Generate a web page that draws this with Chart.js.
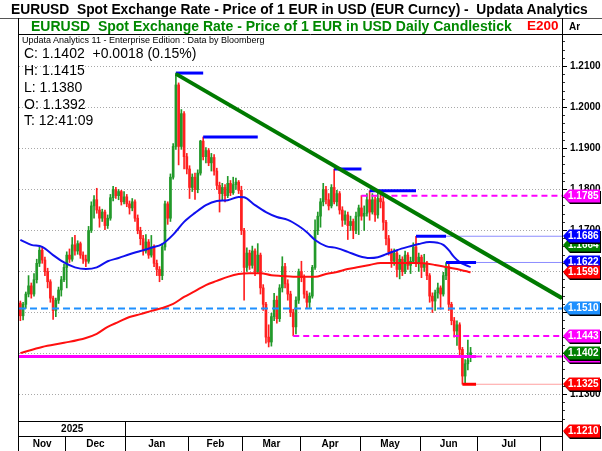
<!DOCTYPE html>
<html><head><meta charset="utf-8">
<script src="https://cdn.jsdelivr.net/npm/chart.js@4/dist/chart.umd.min.js"></script>
<style>
html,body{margin:0;padding:0;background:#fff;}
#wrap{position:relative;width:602px;height:451px;overflow:hidden;font-family:"Liberation Sans",Arial,sans-serif;}
canvas{position:absolute;left:0;top:0;}
.t{position:absolute;white-space:nowrap;line-height:1;}
</style></head>
<body><div id="wrap">
<canvas id="c" width="602" height="451"></canvas>
<div class="t" style="left:11px;top:3px;font-size:13.8px;font-weight:bold;color:#000">EURUSD&nbsp; Spot Exchange Rate - Price of 1 EUR in USD (EUR Curncy) -&nbsp; Updata Analytics</div>
<div class="t" style="left:31px;top:19px;font-size:14px;font-weight:bold;color:#008800">EURUSD&nbsp; Spot Exchange Rate - Price of 1 EUR in USD Daily Candlestick</div>
<div class="t" style="left:527px;top:19px;font-size:13.5px;font-weight:bold;color:#ff0000">E200</div>
<div class="t" style="left:569px;top:22px;font-size:10px;font-weight:bold;color:#000">Ar</div>
<div class="t" style="left:22px;top:36px;font-size:9px;color:#000">Updata Analytics 11 - Enterprise Edition : Data by Bloomberg</div>
<div class="t" style="left:24px;top:46px;font-size:14px;color:#000">C: 1.1402&nbsp; +0.0018 (0.15%)</div>
<div class="t" style="left:24px;top:63px;font-size:14px;color:#000">H: 1.1415</div>
<div class="t" style="left:24px;top:80px;font-size:14px;color:#000">L: 1.1380</div>
<div class="t" style="left:24px;top:97px;font-size:14px;color:#000">O: 1.1392</div>
<div class="t" style="left:24px;top:113px;font-size:14px;color:#000">T: 12:41:09</div>
</div>
<script>
// ---------------- DATA ----------------
const START_DATE = '2024-11-07';
const SLOT_COUNT = 199;          // trading-day slots on the axis (data + future space)
const monthNames = ['Nov','Dec','Jan','Feb','Mar','Apr','May','Jun','Jul',''];
const yearLabels = ['2025',''];
const yTickValues = [1.13,1.14,1.15,1.16,1.17,1.18,1.19,1.20,1.21];
const yMinorStep = 0.002;

const open = [
1.1523,1.1492,1.1520,1.1545,1.1565,1.1545,1.1580,1.1620,1.1652,1.1628,
1.1600,1.1575,1.1535,1.1505,1.1530,1.1555,1.1580,1.1610,1.1640,1.1630,
1.1665,1.1650,1.1668,1.1640,1.1630,1.1625,1.1700,1.1760,1.1775,1.1750,
1.1730,1.1745,1.1712,1.1730,1.1780,1.1800,1.1785,1.1795,1.1770,1.1782,
1.1765,1.1755,1.1770,1.1730,1.1700,1.1680,1.1650,1.1672,1.1640,1.1660,
1.1620,1.1605,1.1590,1.1660,1.1765,1.1730,1.1830,1.1905,1.2055,1.1905,
1.1985,1.1880,1.1850,1.1805,1.1830,1.1800,1.1840,1.1918,1.1880,1.1895,
1.1865,1.1878,1.1845,1.1810,1.1790,1.1805,1.1785,1.1815,1.1792,1.1812,
1.1818,1.1798,1.1700,1.1610,1.1645,1.1615,1.1650,1.1600,1.1640,1.1560,
1.1520,1.1440,1.1428,1.1490,1.1530,1.1485,1.1560,1.1612,1.1570,1.1545,
1.1500,1.1465,1.1530,1.1600,1.1585,1.1545,1.1525,1.1540,1.1610,1.1700,
1.1735,1.1770,1.1800,1.1775,1.1760,1.1805,1.1770,1.1790,1.1750,1.1725,
1.1738,1.1712,1.1722,1.1700,1.1735,1.1755,1.1735,1.1742,1.1775,1.1745,
1.1775,1.1738,1.1778,1.1770,1.1720,1.1680,1.1648,1.1625,1.1645,1.1605,
1.1630,1.1600,1.1640,1.1615,1.1625,1.1660,1.1620,1.1635,1.1610,1.1620,
1.1590,1.1540,1.1528,1.1548,1.1560,1.1545,1.1590,1.1612,1.1520,1.1480,
1.1455,1.1470,1.1410,1.1345,1.1375,1.1392];
const high = [
1.1528,1.1525,1.1550,1.1590,1.1572,1.1595,1.1630,1.1662,1.1660,1.1635,
1.1608,1.1580,1.1540,1.1535,1.1562,1.1588,1.1618,1.1648,1.1655,1.1683,
1.1688,1.1675,1.1672,1.1648,1.1640,1.1710,1.1770,1.1785,1.1803,1.1758,
1.1752,1.1750,1.1738,1.1788,1.1808,1.1805,1.1800,1.1798,1.1795,1.1788,
1.1772,1.1778,1.1775,1.1738,1.1708,1.1688,1.1690,1.1678,1.1688,1.1665,
1.1628,1.1612,1.1668,1.1772,1.1770,1.1838,1.1912,1.2084,1.2060,1.1995,
1.1990,1.1888,1.1858,1.1838,1.1840,1.1848,1.1920,1.1928,1.1902,1.1900,
1.1888,1.1885,1.1852,1.1818,1.1815,1.1812,1.1832,1.1822,1.1830,1.1828,
1.1822,1.1808,1.1705,1.1658,1.1652,1.1662,1.1655,1.1668,1.1645,1.1568,
1.1525,1.1470,1.1498,1.1547,1.1540,1.1568,1.1636,1.1620,1.1580,1.1552,
1.1508,1.1538,1.1606,1.1625,1.1592,1.1552,1.1548,1.1615,1.1726,1.1745,
1.1778,1.1815,1.1808,1.1790,1.1812,1.1850,1.1798,1.1795,1.1758,1.1748,
1.1745,1.1735,1.1728,1.1745,1.1762,1.1785,1.1760,1.1790,1.1797,1.1790,
1.1782,1.1792,1.1794,1.1781,1.1725,1.1688,1.1655,1.1655,1.1650,1.1640,
1.1636,1.1650,1.1646,1.1635,1.1670,1.1686,1.1645,1.1640,1.1642,1.1625,
1.1595,1.1548,1.1555,1.1572,1.1565,1.1598,1.1622,1.1620,1.1525,1.1488,
1.1480,1.1475,1.1415,1.1385,1.1433,1.1415];
const low = [
1.1480,1.1482,1.1510,1.1538,1.1535,1.1540,1.1572,1.1612,1.1620,1.1590,
1.1560,1.1525,1.1483,1.1490,1.1522,1.1540,1.1575,1.1560,1.1622,1.1625,
1.1640,1.1642,1.1632,1.1620,1.1612,1.1620,1.1695,1.1730,1.1742,1.1708,
1.1722,1.1702,1.1705,1.1725,1.1772,1.1778,1.1775,1.1762,1.1765,1.1758,
1.1740,1.1748,1.1722,1.1692,1.1665,1.1640,1.1645,1.1632,1.1635,1.1612,
1.1590,1.1575,1.1580,1.1652,1.1715,1.1722,1.1825,1.1898,1.1860,1.1898,
1.1850,1.1838,1.1778,1.1795,1.1776,1.1792,1.1835,1.1872,1.1865,1.1858,
1.1845,1.1835,1.1800,1.1745,1.1775,1.1770,1.1780,1.1785,1.1788,1.1800,
1.1790,1.1690,1.1530,1.1600,1.1605,1.1608,1.1590,1.1595,1.1545,1.1505,
1.1425,1.1416,1.1418,1.1480,1.1474,1.1478,1.1550,1.1560,1.1530,1.1490,
1.1443,1.1448,1.1522,1.1575,1.1535,1.1510,1.1512,1.1535,1.1605,1.1690,
1.1708,1.1760,1.1765,1.1750,1.1755,1.1765,1.1760,1.1740,1.1710,1.1715,
1.1678,1.1700,1.1680,1.1692,1.1690,1.1725,1.1700,1.1735,1.1725,1.1740,
1.1722,1.1730,1.1755,1.1701,1.1665,1.1640,1.1610,1.1615,1.1587,1.1582,
1.1590,1.1595,1.1605,1.1595,1.1620,1.1612,1.1600,1.1585,1.1600,1.1580,
1.1525,1.1500,1.1505,1.1535,1.1508,1.1540,1.1580,1.1505,1.1470,1.1440,
1.1420,1.1395,1.1325,1.1325,1.1360,1.1380];
const close = [
1.1492,1.1520,1.1545,1.1565,1.1545,1.1580,1.1620,1.1652,1.1628,1.1600,
1.1575,1.1535,1.1505,1.1530,1.1555,1.1580,1.1610,1.1640,1.1630,1.1665,
1.1650,1.1668,1.1640,1.1630,1.1625,1.1700,1.1760,1.1775,1.1750,1.1730,
1.1745,1.1712,1.1730,1.1780,1.1800,1.1785,1.1795,1.1770,1.1782,1.1765,
1.1755,1.1770,1.1730,1.1700,1.1680,1.1650,1.1672,1.1640,1.1660,1.1620,
1.1605,1.1590,1.1660,1.1765,1.1730,1.1830,1.1905,1.2055,1.1905,1.1985,
1.1880,1.1850,1.1805,1.1830,1.1800,1.1840,1.1918,1.1880,1.1895,1.1865,
1.1878,1.1845,1.1810,1.1790,1.1805,1.1785,1.1815,1.1792,1.1812,1.1818,
1.1798,1.1700,1.1610,1.1645,1.1615,1.1650,1.1600,1.1640,1.1560,1.1520,
1.1440,1.1428,1.1490,1.1530,1.1485,1.1560,1.1612,1.1570,1.1545,1.1500,
1.1465,1.1530,1.1600,1.1585,1.1545,1.1525,1.1540,1.1610,1.1700,1.1735,
1.1770,1.1800,1.1775,1.1760,1.1805,1.1770,1.1790,1.1750,1.1725,1.1738,
1.1712,1.1722,1.1700,1.1735,1.1755,1.1735,1.1742,1.1775,1.1745,1.1775,
1.1738,1.1778,1.1770,1.1720,1.1680,1.1648,1.1625,1.1645,1.1605,1.1630,
1.1600,1.1640,1.1615,1.1625,1.1660,1.1620,1.1635,1.1610,1.1620,1.1590,
1.1540,1.1528,1.1548,1.1560,1.1545,1.1590,1.1612,1.1520,1.1480,1.1455,
1.1470,1.1410,1.1345,1.1375,1.1384,1.1402];

// 50-bar average (blue) and 200 EMA (red), read at the listed bars
const blueMaBars = [0,4,8,12,16,20,24,28,32,36,40,44,48,52,56,60,64,68,72,76,80,82,86,90,94,98,102,105,108,112,116,120,124,128,131,134,138,142,146,150,153,155,157,159,161,163,165];
const blueMa = [1.1677,1.1665,1.1660,1.1640,1.1622,1.1610,1.1606,1.1610,1.1625,1.1633,1.1642,1.1650,1.1658,1.1667,1.1690,1.1721,1.1743,1.1762,1.1772,1.1774,1.1782,1.1781,1.1762,1.1745,1.1733,1.1726,1.1711,1.1696,1.1677,1.1662,1.1657,1.1648,1.1638,1.1633,1.1635,1.1642,1.1652,1.1660,1.1667,1.1672,1.1670,1.1665,1.1652,1.1635,1.1623,1.1616,1.1611];
const redMaBars = [0,8,16,24,28,32,36,40,44,48,52,56,60,64,68,72,76,80,84,88,92,96,100,104,108,112,116,120,124,128,132,136,140,144,148,152,156,160,163,165];
const redMa = [1.1401,1.1416,1.1426,1.1438,1.1448,1.1465,1.1477,1.1489,1.1496,1.1504,1.1511,1.1521,1.1538,1.1552,1.1567,1.1577,1.1587,1.1594,1.1596,1.1596,1.1591,1.1589,1.1587,1.1587,1.1587,1.1594,1.1599,1.1606,1.1611,1.1616,1.1621,1.1621,1.1621,1.1621,1.1620,1.1616,1.1611,1.1606,1.1601,1.1598];

// swing-high markers: start bar, end bar, level
const swingFrom = [57,67,115,128,145,156];
const swingTo   = [67,87,125,145,156,167];
const swingLevel= [1.2084,1.1928,1.1850,1.1797,1.1686,1.1622];
// swing-low marker
const lowFrom = 162, lowTo = 167, lowLevel = 1.1325;
// trendline endpoints (bar, value)
const trendBars = [57,198.5];
const trendVals = [1.2082,1.1535];
// horizontal levels
const supportLevel = 1.1510;
const pinkUpper = 1.1785, pinkUpperFrom = 125;
const pinkLower = 1.1443, pinkLowerFrom = 100;
const pinkBase = 1.1393, pinkBaseSolidTo = 167;
// right-hand price tags
const tagValues = [1.1785,1.1664,1.1686,1.1622,1.1599,1.1510,1.1443,1.1393,1.1402,1.1325,1.1210];
const tagColors = ['#ff00ff','#008000','#0000ff','#0000ff','#ff0000','#1e90ff','#ff00ff','#ff00ff','#008000','#ff0000','#ff0000'];

// ---------------- BUILD ----------------
const dates = [];
{ const d = new Date(START_DATE + 'T00:00:00Z');
  while (dates.length < SLOT_COUNT) { const w = d.getUTCDay(); if (w !== 0 && w !== 6) dates.push(new Date(d.getTime())); d.setUTCDate(d.getUTCDate() + 1); } }
const xMin = -0.5, xMax = SLOT_COUNT - 0.5;
const monthEdges = [xMin];
let yearEdge = null;
for (let i = 1; i < dates.length; i++) {
  if (dates[i].getUTCMonth() !== dates[i-1].getUTCMonth()) monthEdges.push(i - 0.5);
  if (yearEdge === null && dates[i].getUTCFullYear() !== dates[i-1].getUTCFullYear()) yearEdge = i - 0.5;
}
monthEdges.push(xMax);
const monthTicks = [];
for (let k = 0; k < monthEdges.length - 1; k++) {
  if (k > 0) monthTicks.push({v: monthEdges[k], label: '', sep: true});
  monthTicks.push({v: (monthEdges[k] + monthEdges[k+1]) / 2, label: monthNames[k] || '', sep: false});
}
const yearTicks = [
  {v: (xMin + yearEdge) / 2, label: yearLabels[0], sep: false},
  {v: yearEdge, label: '', sep: true},
  {v: (yearEdge + xMax) / 2, label: yearLabels[1], sep: false}
];

const UP = '#22992a', DOWN = '#ff2020';
const wickData = close.map((c, i) => ({x: i, y: [low[i], high[i]]}));
const bodyData = close.map((c, i) => ({x: i, y: [open[i], c]}));
const colorOf = (i) => close[i] >= open[i] ? UP : DOWN;

const seg = (x1, x2, v, color, width, dash, order) => ({
  type: 'line', data: [{x: x1, y: v}, {x: x2, y: v}], borderColor: color, borderWidth: width,
  borderDash: dash || [], pointRadius: 0, fill: false, order, tension: 0
});

const datasets = [];
datasets.push({type: 'line', data: trendBars.map((b, k) => ({x: b, y: trendVals[k]})), borderColor: '#007a00', borderWidth: 4, pointRadius: 0, order: 1});
for (let k = 0; k < swingFrom.length; k++) datasets.push(seg(swingFrom[k], swingTo[k], swingLevel[k], '#0000ff', 3, null, 2));
datasets.push(seg(lowFrom, lowTo, lowLevel, '#ff0000', 3, null, 2));
datasets.push({type: 'line', data: blueMaBars.map((b, k) => ({x: b, y: blueMa[k]})), borderColor: '#1010ee', borderWidth: 2, pointRadius: 0, cubicInterpolationMode: 'monotone', order: 3});
datasets.push({type: 'line', data: redMaBars.map((b, k) => ({x: b, y: redMa[k]})), borderColor: '#ff1010', borderWidth: 2, pointRadius: 0, cubicInterpolationMode: 'monotone', order: 3});
datasets.push(seg(xMin, xMax, supportLevel, '#1e90ff', 2, [7, 4], 4));
datasets.push(seg(pinkUpperFrom, xMax, pinkUpper, '#ff00ff', 2, [6, 4], 4));
datasets.push(seg(pinkLowerFrom, xMax, pinkLower, '#ff00ff', 2, [6, 4], 4));
datasets.push(seg(xMin, pinkBaseSolidTo, pinkBase, '#ff00ff', 3, null, 4));
datasets.push(seg(pinkBaseSolidTo, xMax, pinkBase, '#ff00ff', 2, [6, 4], 4));
datasets.push(seg(swingTo[4], xMax, swingLevel[4], '#8c8cff', 1, null, 4));
datasets.push(seg(swingTo[5], xMax, swingLevel[5], '#8c8cff', 1, null, 4));
datasets.push(seg(lowTo, xMax, lowLevel, '#ffa0a0', 1, null, 4));
datasets.push({type: 'bar', data: bodyData, backgroundColor: c => colorOf(c.dataIndex), barThickness: 2, grouped: false, borderWidth: 0, order: 5});
datasets.push({type: 'bar', data: wickData, backgroundColor: c => colorOf(c.dataIndex), barThickness: 1, grouped: false, borderWidth: 0, order: 6});

const FONT = '"Liberation Sans", Arial, sans-serif';
const yMin = 1.12354, yMax = 1.21768;

const framePlugin = {
  id: 'frame',
  beforeDraw(chart) {
    const c = chart.ctx; c.save(); c.fillStyle = '#fff'; c.fillRect(0, 0, chart.width, chart.height); c.restore();
  },
  afterDraw(chart) {
    const c = chart.ctx, a = chart.chartArea;
    c.save();
    c.strokeStyle = '#555'; c.lineWidth = 1;
    c.beginPath(); c.moveTo(0, 18.5); c.lineTo(602, 18.5); c.stroke();
    c.strokeStyle = '#000';
    c.beginPath(); c.moveTo(a.left - 0.5, 18); c.lineTo(a.left - 0.5, 451); c.stroke();
    c.beginPath(); c.moveTo(a.left, a.top - 0.5); c.lineTo(602, a.top - 0.5); c.stroke();
    c.beginPath(); c.moveTo(a.right + 0.5, 18); c.lineTo(a.right + 0.5, a.top); c.stroke();
    c.beginPath(); c.moveTo(a.right + 0.5, a.bottom); c.lineTo(a.right + 0.5, 451); c.stroke();
    // price tags
    const ys = chart.scales.y;
    c.font = 'bold 10px ' + FONT; c.textBaseline = 'middle'; c.textAlign = 'left';
    tagValues.forEach((v, k) => {
      const y = Math.round(ys.getPixelForValue(v));
      const shape = (dx, dy) => { c.beginPath(); c.moveTo(563 + dx, y + dy); c.lineTo(569 + dx, y - 6.5 + dy); c.lineTo(600 + dx, y - 6.5 + dy); c.lineTo(600 + dx, y + 6.5 + dy); c.lineTo(569 + dx, y + 6.5 + dy); c.closePath(); };
      c.fillStyle = '#000'; shape(1, 1.5); c.fill();
      c.fillStyle = tagColors[k]; shape(0, 0); c.fill();
      c.fillStyle = '#fff'; c.fillText(v.toFixed(4), 568, y + 0.5);
    });
    c.restore();
  }
};

new Chart(document.getElementById('c'), {
  type: 'bar',
  data: {datasets},
  options: {
    responsive: false, animation: false, events: [],
    layout: {padding: {left: 19, top: 35, right: 0, bottom: 0}},
    plugins: {legend: {display: false}, tooltip: {enabled: false}, title: {display: false}},
    scales: {
      x: {type: 'linear', display: false, min: xMin, max: xMax, offset: false, grid: {offset: false}},
      xYear: {
        type: 'linear', position: 'bottom', weight: 1, min: xMin, max: xMax, offset: false,
        afterBuildTicks: s => { s.ticks = yearTicks.map(t => ({value: t.v})); },
        afterFit: s => { s.height = 15; },
        ticks: {autoSkip: false, maxRotation: 0, padding: -13, color: '#000', font: {family: FONT, size: 10, weight: 'bold'}, callback: (v, i) => yearTicks[i] ? yearTicks[i].label : ''},
        grid: {offset: false, drawOnChartArea: false, drawTicks: true, tickLength: 15, tickWidth: 1, tickColor: c => (yearTicks[c.index] && yearTicks[c.index].sep) ? '#000' : 'rgba(0,0,0,0)'},
        border: {display: true, color: '#000', width: 1}
      },
      xMonth: {
        type: 'linear', position: 'bottom', weight: 2, min: xMin, max: xMax, offset: false,
        afterBuildTicks: s => { s.ticks = monthTicks.map(t => ({value: t.v})); },
        afterFit: s => { s.height = 15; },
        ticks: {autoSkip: false, maxRotation: 0, padding: -13, color: '#000', font: {family: FONT, size: 10, weight: 'bold'}, callback: (v, i) => monthTicks[i] ? monthTicks[i].label : ''},
        grid: {offset: false, drawOnChartArea: false, drawTicks: true, tickLength: 15, tickWidth: 1, tickColor: c => (monthTicks[c.index] && monthTicks[c.index].sep) ? '#000' : 'rgba(0,0,0,0)'},
        border: {display: true, color: '#000', width: 1}
      },
      yMinor: {
        type: 'linear', position: 'right', weight: 0, min: yMin, max: yMax, beginAtZero: false,
        afterBuildTicks: s => { const t = []; for (let v = Math.ceil(yMin / yMinorStep) * yMinorStep; v <= yMax; v += yMinorStep) t.push({value: v}); s.ticks = t; },
        afterFit: s => { s.width = 0; },
        ticks: {display: false},
        grid: {drawOnChartArea: false, drawTicks: true, tickLength: 3, tickColor: '#333'},
        border: {display: false}
      },
      y: {
        type: 'linear', position: 'right', weight: 1, min: yMin, max: yMax, beginAtZero: false,
        afterBuildTicks: s => { s.ticks = yTickValues.map(v => ({value: v})); },
        afterFit: s => { s.width = 40; },
        ticks: {padding: 3, color: '#000', font: {family: FONT, size: 10, weight: 'bold'}, callback: v => v.toFixed(4)},
        grid: {color: '#a8a8a8', lineWidth: 1, drawTicks: true, tickLength: 5, tickColor: '#000'},
        border: {display: true, color: '#000', width: 1, dash: [1, 2]}
      }
    }
  },
  plugins: [framePlugin]
});
</script>
</body></html>
